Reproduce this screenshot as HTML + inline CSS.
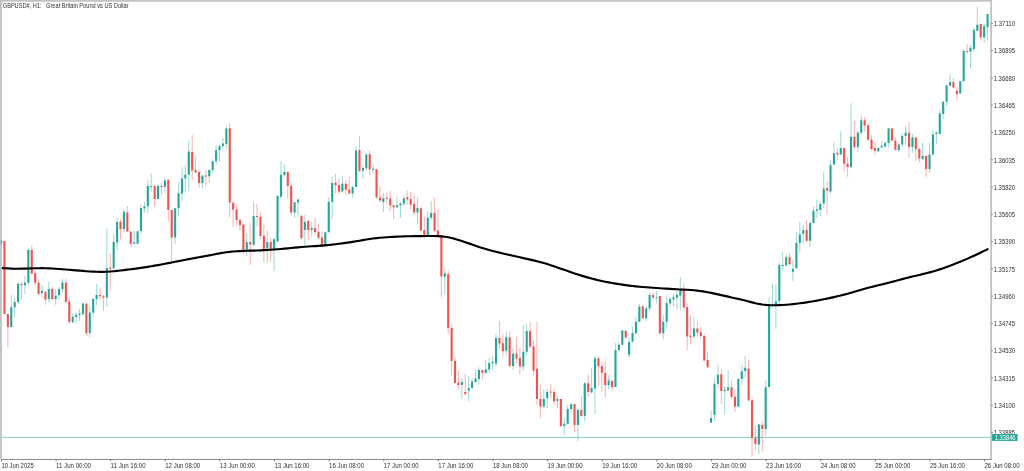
<!DOCTYPE html>
<html><head><meta charset="utf-8"><title>GBPUSD#, H1</title>
<style>
html,body{margin:0;padding:0;background:#fff;}
body{width:1024px;height:471px;overflow:hidden;position:relative;font-family:"Liberation Sans",sans-serif;}
svg{position:absolute;left:0;top:0;display:block;}
text{font-family:"Liberation Sans",sans-serif;font-size:6.3px;fill:#303030;}
.t{filter:blur(0.3px);}
</style></head>
<body>
<svg width="1024" height="471" viewBox="0 0 1024 471">
<rect x="0" y="0" width="1024" height="471" fill="#ffffff"/>
<!-- price line -->
<path d="M1.9 437.35H991" stroke="#26a69a" stroke-width="0.6" stroke-opacity="0.95" fill="none"/>
<!-- wicks -->
<path d="M11.27 295V326.9M14.68 297.8V317M18.1 282.4V304.4M24.93 275.8V294.2M28.34 248V285.6M41.99 285.3V297.4M48.82 281.2V302.5M55.65 289.5V304.8M59.06 287.1V299.7M62.47 279V291.9M72.72 313.1V323.6M76.13 312.6V323M79.54 308.8V320.9M82.96 302.5V315.8M89.78 305.8V337.3M93.2 298.1V317M96.61 284V305.2M106.85 228.3V306.8M113.68 234.6V269.2M117.09 218V250M123.92 209.7V232.2M134.16 230.6V243.8M137.57 231V243.8M140.99 204.5V234M144.4 202V213M147.81 179.7V213M151.23 173.4V192M158.06 183.7V199.1M164.88 177.8V192.6M175.12 208.3V243.8M178.54 182V216.4M181.95 167.2V201.5M185.36 165.9V191M188.78 140.4V190.8M202.43 175V187.9M209.26 169V182.9M212.67 159.3V173.4M216.09 145.1V164.3M219.5 144.8V161.7M222.91 138.1V149.5M226.33 126.3V149.1M246.81 233V256.4M253.64 202.6V246M267.29 230.6V262.6M274.12 237.5V271.1M277.53 195.2V242.5M280.95 160.9V198.8M284.36 164.1V177.4M294.6 202.1V217.8M298.01 199.4V217M304.84 214.6V245.3M311.67 221.7V236.7M325.32 231.1V245.6M328.74 197.2V232.2M332.15 176.7V218.6M342.39 176.2V192.8M352.63 185.3V197.9M356.04 146.3V186.9M362.87 165.6V178.7M366.29 153.5V170.8M373.11 164.5V173.2M383.35 193.2V212.3M397.01 196.3V208.4M400.42 201.7V217.8M403.83 194.7V206M417.49 197.8V223.6M427.73 211.5V235.5M431.14 201V220.1M444.8 267.7V294.4M461.87 378.3V399M468.69 376.2V401.4M472.11 378.6V389M475.52 369.9V383M478.93 367.3V384.5M485.76 359.7V373.9M489.17 358.1V373.1M492.59 355.7V369.9M496 333.4V366.7M506.24 331.8V355.4M513.07 347.9V369.9M523.31 325.1V370.4M526.72 324.3V355.7M543.79 389.3V408.4M547.21 388.8V408.4M557.45 396.2V408.4M564.27 418V434.8M567.69 405.5V424.9M571.1 403.5V412.6M577.93 407.9V441.1M584.76 382.1V421.4M591.58 367.6V393M595 356.3V413.6M608.65 375.1V389.2M615.48 343.2V386.9M618.89 342.1V351.9M622.31 329.9V345.6M629.13 337.4V357.8M632.55 326.4V342.4M635.96 317V334.3M639.37 304.1V321.8M646.2 305.3V321M649.61 292.3V310.7M656.44 290.7V303.2M663.27 315.2V339.3M666.68 295.1V328.6M670.1 297V307.6M673.51 293.8V307M676.92 290.7V309.5M680.34 277.3V310.4M693.99 317V338.5M711.06 410.1V422.7M714.47 378.3V419.6M717.89 364.6V388M724.71 386.3V414.5M728.13 370.1V390.5M738.37 378V406.7M741.78 365.4V385M745.19 355.9V377.2M758.85 423.5V453.8M765.68 380.3V435M769.09 297.7V386.9M772.5 283.9V307.7M775.92 283.9V329M779.33 262.7V304M782.74 252V270.6M786.16 254.5V266.5M792.99 259.3V281.3M796.4 232.5V268.2M799.81 221.8V252.5M803.23 224.5V243.7M810.05 221.4V247.2M813.47 206.4V223.5M816.88 199.4V217.8M820.29 201.7V216.2M823.71 171.7V208M830.53 159.9V193.5M833.95 142.3V165M840.78 131.3V155M851.02 103.2V168.5M857.84 130.8V152.3M861.26 115.1V134.7M878.33 146.5V152.3M881.74 141.3V148.1M885.15 141V147.3M888.57 127.6V147.3M898.81 143.8V152M902.22 133.5V147.3M905.63 126.5V144.9M912.46 133.9V152.8M922.7 142.6V160.2M929.53 142.9V172.8M932.94 130V155.2M936.36 130.8V143.8M939.77 110.2V133.9M943.18 100.7V118.8M946.6 85V105.8M950.01 74.2V85.8M960.25 81V93.6M963.67 49.1V81.3M970.49 45V68.2M973.91 27.5V52.3M977.32 6.8V31.6M984.15 23.4V42.8M987.56 14V40.8" stroke="#26a69a" stroke-width="1.0" stroke-opacity="0.45" fill="none"/>
<path d="M4.44 241V314M7.86 314V347M21.51 281.6V299.7M31.75 245.6V273.8M35.17 271.1V285.6M38.58 279.3V295M45.41 291V304.8M52.23 287.1V299.7M65.89 278.5V302.5M69.3 297.8V323.6M86.37 302.5V335.3M100.02 287.9V299.7M103.44 295V311M110.27 253.3V290M120.51 219.2V239.3M127.33 206V232.2M130.75 231.6V246.5M154.64 185V207M161.47 182.9V194.4M168.3 179.7V221.1M171.71 210.1V262M192.19 134.9V180M195.61 155.4V173.4M199.02 170.3V187.6M205.85 170.3V185.7M229.74 123.1V217.2M233.15 200.7V227.1M236.57 203.9V225.9M239.98 218V230.6M243.4 224V254M250.22 222.7V264.8M257.05 203.9V226.7M260.46 211.7V239.3M263.88 224.3V262.6M270.7 237.9V261.3M287.77 171.9V198.7M291.19 182.2V216.2M301.43 215.7V239.8M308.25 220V240.6M315.08 217.8V235.1M318.49 224.1V239M321.91 231.5V247.7M335.56 174V193.2M338.98 178.2V193.9M345.8 179.8V195.5M349.22 176.7V194.7M359.46 136.3V172.4M369.7 150.7V175.1M376.53 169.3V198.5M379.94 186.1V202.4M386.77 192.8V204.6M390.18 190.8V210.7M393.59 205.3V218.9M407.25 190.8V204.3M410.66 191.6V209.5M414.08 193.9V215.1M420.9 206.8V231M424.32 217V238.2M434.56 197.8V231.9M437.97 209.1V235.9M441.38 235.3V296.8M448.21 270.1V334M451.63 323.5V375.4M455.04 357.3V383M458.45 370.7V389.3M465.28 373.9V395.9M482.35 369.5V380.1M499.42 321.1V349.4M502.83 334V356.5M509.66 331.4V367.7M516.48 337.2V363.2M519.9 347.9V373.9M530.14 321.9V347.9M533.55 340V375.4M536.97 321.9V405.3M540.38 384.9V417.9M550.62 384.1V397.8M554.03 388.8V404.5M560.86 399V427M574.51 404V431.7M581.34 396V417M588.17 374.4V396.6M598.41 356.9V385.3M601.82 361.3V391.6M605.24 360.5V397.1M612.06 380V390.8M625.72 329.9V338.5M642.79 305V318.9M653.03 291.9V299.8M659.85 296.1V334.9M683.75 283.5V310.5M687.16 303.2V350.3M690.58 315.7V344.8M697.4 321.2V336.9M700.82 326.4V338.5M704.23 333.8V361M707.65 351.8V367.9M721.3 369.3V403.9M731.54 380.3V399M734.95 390.3V411.7M748.61 359.5V400.5M752.02 396.8V456.5M755.44 426.2V449.8M762.26 421.1V451.8M789.57 253V265M806.64 219.8V242.5M827.12 181V214.6M837.36 148.1V159.6M844.19 147.3V171.7M847.6 157V176.8M854.43 121V149.2M864.67 117.1V131.9M868.08 123.4V140.7M871.5 134.7V150.1M874.91 141.8V154.8M891.98 128.4V140.7M895.39 137.5V150.4M909.05 122.5V157.5M915.87 137V161.4M919.29 147.3V162.7M926.12 155.2V176.8M953.42 78V88.2M956.84 87V100M967.08 44V54.7M980.73 24.1V40.6" stroke="#ef5350" stroke-width="1.0" stroke-opacity="0.45" fill="none"/>
<!-- bodies -->
<path d="M11.27 307.3V326.9M14.68 302V307.3M18.1 283.7V302M24.93 282.4V285.3M28.34 250V282.7M41.99 291V293M48.82 289V298.9M55.65 295.8V298.9M59.06 289V295.3M62.47 282.4V289M72.72 316.7V322M76.13 314.7V317M79.54 313.6V315.1M82.96 303.6V313.9M89.78 312.5V332.9M93.2 298.9V312.6M96.61 295V298.9M106.85 268V297.5M113.68 242.1V268.5M117.09 222V242.4M123.92 211.8V229M134.16 242.3V243.8M137.57 231.2V243.8M140.99 208.1V231M144.4 206.2V208.6M147.81 186V206.2M151.23 186V187M158.06 186V199.1M164.88 180.5V186.8M175.12 208.3V237.6M178.54 193.3V208.3M181.95 178.5V193.5M185.36 174.7V178.5M188.78 151.4V174.7M202.43 175.8V182.9M209.26 170V176.3M212.67 161.2V170M216.09 150.2V161.2M219.5 145.9V150.2M222.91 143.6V145.9M226.33 128.6V143.9M246.81 242.3V249.4M253.64 216.1V244.7M267.29 241.9V248.6M274.12 239.3V249.2M277.53 196V241.3M280.95 174.7V196.8M284.36 171.9V175.1M294.6 202.2V212.6M298.01 199.5V202.3M304.84 222V229.9M311.67 228V229.9M325.32 232.2V245.6M328.74 201.7V232.2M332.15 182.9V201.7M342.39 183.7V191.6M352.63 186.9V193.5M356.04 150.4V186.9M362.87 168V170.8M366.29 154.6V168.3M373.11 168.8V169.9M383.35 198.2V202M397.01 205.3V207.3M400.42 203.5V205.5M403.83 198.2V203.7M417.49 208V212.6M427.73 217.8V235.1M431.14 213.1V217.8M444.8 273.2V276.8M461.87 382V384.9M468.69 388V390.4M472.11 381.4V388M475.52 378.6V382M478.93 369.9V378.9M485.76 369.3V372.8M489.17 362.9V369.6M492.59 361.8V363.2M496 338.1V363.6M506.24 337.2V350.7M513.07 353.8V365.9M523.31 351.8V366.6M526.72 330.9V351.8M543.79 399V406.6M547.21 391.9V398.2M557.45 399V400.9M564.27 423.8V426.1M567.69 408.9V423.8M571.1 404.3V408.9M577.93 410V424.9M584.76 383.2V416M591.58 388.1V392.4M595 358.2V388.4M608.65 380.6V385.3M615.48 350V386.9M618.89 344.8V350M622.31 330.6V344.8M629.13 342.1V354.7M632.55 333V341.7M635.96 321.8V333.3M639.37 306.6V321.8M646.2 308.4V318.5M649.61 295.1V308.6M656.44 296.9V297.8M663.27 321.8V333.3M666.68 303.2V321.7M670.1 299.1V303.2M673.51 297.3V299.4M676.92 294.8V297.8M680.34 289.8V295.7M693.99 328.6V336.5M711.06 418V422.7M714.47 384V415M717.89 374.7V383.8M724.71 389.8V391M728.13 387.2V390.5M738.37 379V406.7M741.78 371.2V379M745.19 367.7V370.9M758.85 424.6V444.4M765.68 387.2V429M769.09 305.2V386.9M772.5 304.6V305.4M775.92 301.4V304.8M779.33 265.1V300.8M782.74 265.1V265.9M786.16 257.2V265.6M792.99 269V271.7M796.4 243V268.2M799.81 234.4V243M803.23 230.2V233.8M810.05 222.9V240.7M813.47 210.8V222.9M816.88 209.3V210.8M820.29 204.1V209.9M823.71 188.4V203.6M830.53 164.9V191.5M833.95 153.3V164.6M840.78 148.1V154.4M851.02 137.1V166.9M857.84 132.4V147M861.26 120.2V132.8M878.33 148.1V151.2M881.74 145.7V147.3M885.15 142.9V146.5M888.57 128.4V142.9M898.81 144.5V150.1M902.22 136V144.5M905.63 132.8V136M912.46 137.5V147M922.7 155.9V159.1M929.53 154.4V169M932.94 134.4V154.4M936.36 132.8V134.1M939.77 113.3V133.9M943.18 101.8V114M946.6 85.3V101.8M950.01 82V85.8M960.25 81.3V93.6M963.67 51V81.3M970.49 47.8V51.7M973.91 30V49.1M977.32 24.7V30.7M984.15 26.3V37.6M987.56 14V26.9" stroke="#26a69a" stroke-width="2.1" fill="none"/>
<path d="M4.44 241V314M7.86 314V326.9M21.51 284V285.3M31.75 250V273.8M35.17 273.3V282.7M38.58 282.7V293.9M45.41 291.9V299.4M52.23 289V298.9M65.89 282.4V302.1M69.3 301.6V322M86.37 303.7V332.9M100.02 295V296.3M103.44 296.3V297.5M110.27 267.8V269M120.51 222V229M127.33 212.6V231.6M130.75 231.6V243.8M154.64 186V199.1M161.47 186V187.1M168.3 179.7V210.1M171.71 210.1V237.6M192.19 151.9V170.6M195.61 170V172.2M199.02 171.9V182.9M205.85 175.5V176.6M229.74 128.2V202.6M233.15 203.1V209.8M236.57 209.4V219.9M239.98 219.9V225.1M243.4 224.6V249.4M250.22 242V244.6M257.05 216.1V217.1M260.46 216.9V236M263.88 235.8V249.1M270.7 241.9V249.2M287.77 171.9V186.1M291.19 186.1V212.6M301.43 215.7V238.2M308.25 220.9V229.9M315.08 228V231.9M318.49 231.9V237.8M321.91 237.4V245.6M335.56 182.6V185M338.98 185V191.6M345.8 183.7V189.7M349.22 189.5V193.5M359.46 149.9V170.8M369.7 154.2V169.6M376.53 169.3V197.6M379.94 197.5V200.6M386.77 197.9V199.1M390.18 198.6V205.3M393.59 205.3V207.3M407.25 197.2V199.6M410.66 199V204.8M414.08 204.1V212.6M420.9 208.2V230.4M424.32 229.9V235.1M434.56 213.1V230.8M437.97 230.4V235.1M441.38 235.3V276.4M448.21 274V327.9M451.63 327.9V360.9M455.04 360.9V383M458.45 382.5V384.9M465.28 391.9V394M482.35 370.2V373.1M499.42 338.1V343.6M502.83 343.2V351.3M509.66 337.2V365.8M516.48 353.4V358.5M519.9 358.1V366.6M530.14 330.9V346.6M533.55 346.3V370.7M536.97 368.7V399M540.38 399V406.6M550.62 391.5V392.4M554.03 391.9V401.4M560.86 399V426.1M574.51 404V424.9M581.34 410V416M588.17 383.2V391.9M598.41 358.2V366M601.82 366V372.7M605.24 373V385M612.06 381V386.9M625.72 331V337.4M642.79 306.6V318.2M653.03 295.1V297.6M659.85 296.1V333.3M683.75 289.8V307.4M687.16 307V336.5M690.58 335.8V336.9M697.4 328.6V332.5M700.82 332.2V336M704.23 336V360.5M707.65 360.1V367.3M721.3 374.3V391M731.54 387.2V396.8M734.95 396.8V406.7M748.61 368.5V400.5M752.02 400.3V437.7M755.44 438.1V443.9M762.26 425.1V429M789.57 257.2V264.3M806.64 230V240.7M827.12 187.9V190.7M837.36 152.8V154.4M844.19 148.1V163.8M847.6 163.8V166.9M854.43 137.1V147M864.67 120.2V125.6M868.08 125.3V139.7M871.5 139.4V149.2M874.91 148.1V150.8M891.98 128.4V140.7M895.39 140.7V149.7M909.05 132.8V147M915.87 137.5V149.2M919.29 148.9V158.6M926.12 155.9V169M953.42 82V87.6M956.84 90.8V93.9M967.08 51.3V51.9M980.73 24.1V37.3" stroke="#ef5350" stroke-width="2.1" fill="none"/>
<!-- moving average -->
<path d="M1.03 268 L4.44 268.22 L7.86 268.42 L11.27 268.59 L14.68 268.7 L18.1 268.72 L21.51 268.67 L24.93 268.57 L28.34 268.46 L31.75 268.35 L35.17 268.27 L38.58 268.21 L41.99 268.18 L45.41 268.21 L48.82 268.31 L52.23 268.48 L55.65 268.71 L59.06 268.97 L62.47 269.24 L65.89 269.51 L69.3 269.79 L72.72 270.08 L76.13 270.36 L79.54 270.65 L82.96 270.93 L86.37 271.21 L89.78 271.45 L93.2 271.65 L96.61 271.79 L100.02 271.86 L103.44 271.83 L106.85 271.71 L110.27 271.49 L113.68 271.2 L117.09 270.84 L120.51 270.47 L123.92 270.07 L127.33 269.67 L130.75 269.25 L134.16 268.81 L137.57 268.36 L140.99 267.88 L144.4 267.36 L147.81 266.82 L151.23 266.26 L154.64 265.67 L158.06 265.07 L161.47 264.45 L164.88 263.8 L168.3 263.14 L171.71 262.46 L175.12 261.79 L178.54 261.11 L181.95 260.44 L185.36 259.78 L188.78 259.13 L192.19 258.49 L195.61 257.86 L199.02 257.25 L202.43 256.64 L205.85 256.02 L209.26 255.38 L212.67 254.72 L216.09 254.05 L219.5 253.39 L222.91 252.77 L226.33 252.25 L229.74 251.84 L233.15 251.52 L236.57 251.27 L239.98 251.07 L243.4 250.92 L246.81 250.78 L250.22 250.67 L253.64 250.57 L257.05 250.45 L260.46 250.32 L263.88 250.16 L267.29 249.98 L270.7 249.76 L274.12 249.52 L277.53 249.24 L280.95 248.95 L284.36 248.63 L287.77 248.31 L291.19 247.97 L294.6 247.63 L298.01 247.31 L301.43 247 L304.84 246.72 L308.25 246.48 L311.67 246.28 L315.08 246.09 L318.49 245.9 L321.91 245.67 L325.32 245.39 L328.74 245.05 L332.15 244.66 L335.56 244.24 L338.98 243.79 L342.39 243.34 L345.8 242.87 L349.22 242.38 L352.63 241.86 L356.04 241.3 L359.46 240.71 L362.87 240.12 L366.29 239.53 L369.7 238.98 L373.11 238.48 L376.53 238.07 L379.94 237.74 L383.35 237.47 L386.77 237.24 L390.18 237.04 L393.59 236.86 L397.01 236.69 L400.42 236.54 L403.83 236.41 L407.25 236.3 L410.66 236.22 L414.08 236.16 L417.49 236.12 L420.9 236.08 L424.32 236.05 L427.73 236.03 L431.14 236.01 L434.56 236.04 L437.97 236.14 L441.38 236.36 L444.8 236.74 L448.21 237.29 L451.63 238.02 L455.04 238.91 L458.45 239.91 L461.87 241.01 L465.28 242.18 L468.69 243.38 L472.11 244.59 L475.52 245.77 L478.93 246.9 L482.35 247.99 L485.76 249.02 L489.17 250.01 L492.59 250.95 L496 251.83 L499.42 252.66 L502.83 253.46 L506.24 254.25 L509.66 255.02 L513.07 255.79 L516.48 256.56 L519.9 257.32 L523.31 258.08 L526.72 258.84 L530.14 259.61 L533.55 260.4 L536.97 261.23 L540.38 262.12 L543.79 263.07 L547.21 264.09 L550.62 265.16 L554.03 266.28 L557.45 267.44 L560.86 268.64 L564.27 269.85 L567.69 271.07 L571.1 272.27 L574.51 273.43 L577.93 274.55 L581.34 275.62 L584.76 276.64 L588.17 277.6 L591.58 278.51 L595 279.37 L598.41 280.19 L601.82 280.96 L605.24 281.69 L608.65 282.38 L612.06 283.02 L615.48 283.61 L618.89 284.16 L622.31 284.68 L625.72 285.17 L629.13 285.63 L632.55 286.04 L635.96 286.4 L639.37 286.71 L642.79 286.97 L646.2 287.23 L649.61 287.47 L653.03 287.73 L656.44 287.98 L659.85 288.23 L663.27 288.46 L666.68 288.69 L670.1 288.9 L673.51 289.1 L676.92 289.28 L680.34 289.45 L683.75 289.61 L687.16 289.79 L690.58 289.99 L693.99 290.26 L697.4 290.61 L700.82 291.06 L704.23 291.6 L707.65 292.22 L711.06 292.89 L714.47 293.6 L717.89 294.35 L721.3 295.11 L724.71 295.88 L728.13 296.66 L731.54 297.43 L734.95 298.18 L738.37 298.92 L741.78 299.7 L745.19 300.54 L748.61 301.44 L752.02 302.34 L755.44 303.19 L758.85 303.93 L762.26 304.52 L765.68 304.94 L769.09 305.19 L772.5 305.3 L775.92 305.28 L779.33 305.16 L782.74 304.98 L786.16 304.75 L789.57 304.46 L792.99 304.12 L796.4 303.72 L799.81 303.29 L803.23 302.82 L806.64 302.32 L810.05 301.78 L813.47 301.2 L816.88 300.59 L820.29 299.96 L823.71 299.3 L827.12 298.6 L830.53 297.87 L833.95 297.11 L837.36 296.32 L840.78 295.49 L844.19 294.62 L847.6 293.7 L851.02 292.72 L854.43 291.71 L857.84 290.67 L861.26 289.66 L864.67 288.69 L868.08 287.78 L871.5 286.92 L874.91 286.1 L878.33 285.29 L881.74 284.47 L885.15 283.62 L888.57 282.74 L891.98 281.85 L895.39 280.93 L898.81 280.01 L902.22 279.09 L905.63 278.21 L909.05 277.36 L912.46 276.54 L915.87 275.74 L919.29 274.93 L922.7 274.11 L926.12 273.26 L929.53 272.37 L932.94 271.44 L936.36 270.45 L939.77 269.39 L943.18 268.24 L946.6 267.02 L950.01 265.75 L953.42 264.45 L956.84 263.12 L960.25 261.75 L963.67 260.34 L967.08 258.87 L970.49 257.35 L973.91 255.78 L977.32 254.18 L980.73 252.54 L984.15 250.88 L987.56 249.22" stroke="#000" stroke-width="2.15" fill="none" stroke-linejoin="round" stroke-linecap="round"/>
<!-- frame -->
<rect x="0" y="0" width="992" height="1.75" fill="#c3c3c3"/>
<rect x="0" y="0" width="1.9" height="458.8" fill="#c3c3c3"/>
<rect x="990.2" y="0" width="1.85" height="459.8" fill="#c3c3c3"/>
<path d="M1.5 243.7V240.6" stroke="#26a69a" stroke-width="1.2" fill="none"/>
<path d="M1.2 459.45H991.6" stroke="#6a6a6a" stroke-width="0.8" fill="none"/>
<path d="M1.48 459.4v1.9M56.1 459.4v1.9M110.72 459.4v1.9M165.33 459.4v1.9M219.95 459.4v1.9M274.57 459.4v1.9M329.19 459.4v1.9M383.8 459.4v1.9M438.42 459.4v1.9M493.04 459.4v1.9M547.66 459.4v1.9M602.27 459.4v1.9M656.89 459.4v1.9M711.51 459.4v1.9M766.13 459.4v1.9M820.74 459.4v1.9M875.36 459.4v1.9M929.98 459.4v1.9M984.6 459.4v1.9" stroke="#5a5a5a" stroke-width="0.8" fill="none"/>
<path d="M991.3 23.35h1.6M991.3 50.62h1.6M991.3 77.9h1.6M991.3 105.17h1.6M991.3 132.44h1.6M991.3 159.72h1.6M991.3 186.99h1.6M991.3 214.26h1.6M991.3 241.53h1.6M991.3 268.81h1.6M991.3 296.08h1.6M991.3 323.35h1.6M991.3 350.63h1.6M991.3 377.9h1.6M991.3 405.17h1.6M991.3 432.44h1.6" stroke="#3a3a3a" stroke-width="0.6" fill="none"/>
<!-- labels -->
<g class="t">
<text x="2.8" y="7.9" textLength="38.6" lengthAdjust="spacingAndGlyphs">GBPUSD#, H1:</text>
<text x="46.1" y="7.9" textLength="82.5" lengthAdjust="spacingAndGlyphs">Great Britain Pound vs US Dollar</text>
<text x="993.7" y="26.2" textLength="21.3" lengthAdjust="spacingAndGlyphs">1.37110</text><text x="993.7" y="53.47" textLength="21.3" lengthAdjust="spacingAndGlyphs">1.36895</text><text x="993.7" y="80.75" textLength="21.3" lengthAdjust="spacingAndGlyphs">1.36680</text><text x="993.7" y="108.02" textLength="21.3" lengthAdjust="spacingAndGlyphs">1.36465</text><text x="993.7" y="135.29" textLength="21.3" lengthAdjust="spacingAndGlyphs">1.36250</text><text x="993.7" y="162.57" textLength="21.3" lengthAdjust="spacingAndGlyphs">1.36035</text><text x="993.7" y="189.84" textLength="21.3" lengthAdjust="spacingAndGlyphs">1.35820</text><text x="993.7" y="217.11" textLength="21.3" lengthAdjust="spacingAndGlyphs">1.35605</text><text x="993.7" y="244.38" textLength="21.3" lengthAdjust="spacingAndGlyphs">1.35390</text><text x="993.7" y="271.66" textLength="21.3" lengthAdjust="spacingAndGlyphs">1.35175</text><text x="993.7" y="298.93" textLength="21.3" lengthAdjust="spacingAndGlyphs">1.34960</text><text x="993.7" y="326.2" textLength="21.3" lengthAdjust="spacingAndGlyphs">1.34745</text><text x="993.7" y="353.48" textLength="21.3" lengthAdjust="spacingAndGlyphs">1.34530</text><text x="993.7" y="380.75" textLength="21.3" lengthAdjust="spacingAndGlyphs">1.34315</text><text x="993.7" y="408.02" textLength="21.3" lengthAdjust="spacingAndGlyphs">1.34100</text><text x="993.7" y="435.29" textLength="21.3" lengthAdjust="spacingAndGlyphs">1.33885</text>
<text x="1.38" y="467.75" textLength="32.3" lengthAdjust="spacingAndGlyphs">10 Jun 2025</text><text x="56" y="467.75" textLength="35.0" lengthAdjust="spacingAndGlyphs">11 Jun 00:00</text><text x="110.62" y="467.75" textLength="35.0" lengthAdjust="spacingAndGlyphs">11 Jun 16:00</text><text x="165.23" y="467.75" textLength="35.0" lengthAdjust="spacingAndGlyphs">12 Jun 08:00</text><text x="219.85" y="467.75" textLength="35.0" lengthAdjust="spacingAndGlyphs">13 Jun 00:00</text><text x="274.47" y="467.75" textLength="35.0" lengthAdjust="spacingAndGlyphs">13 Jun 16:00</text><text x="329.09" y="467.75" textLength="35.0" lengthAdjust="spacingAndGlyphs">16 Jun 08:00</text><text x="383.7" y="467.75" textLength="35.0" lengthAdjust="spacingAndGlyphs">17 Jun 00:00</text><text x="438.32" y="467.75" textLength="35.0" lengthAdjust="spacingAndGlyphs">17 Jun 16:00</text><text x="492.94" y="467.75" textLength="35.0" lengthAdjust="spacingAndGlyphs">18 Jun 08:00</text><text x="547.56" y="467.75" textLength="35.0" lengthAdjust="spacingAndGlyphs">19 Jun 00:00</text><text x="602.17" y="467.75" textLength="35.0" lengthAdjust="spacingAndGlyphs">19 Jun 16:00</text><text x="656.79" y="467.75" textLength="35.0" lengthAdjust="spacingAndGlyphs">20 Jun 08:00</text><text x="711.41" y="467.75" textLength="35.0" lengthAdjust="spacingAndGlyphs">23 Jun 00:00</text><text x="766.03" y="467.75" textLength="35.0" lengthAdjust="spacingAndGlyphs">23 Jun 16:00</text><text x="820.64" y="467.75" textLength="35.0" lengthAdjust="spacingAndGlyphs">24 Jun 08:00</text><text x="875.26" y="467.75" textLength="35.0" lengthAdjust="spacingAndGlyphs">25 Jun 00:00</text><text x="929.88" y="467.75" textLength="35.0" lengthAdjust="spacingAndGlyphs">25 Jun 16:00</text><text x="984.5" y="467.75" textLength="35.0" lengthAdjust="spacingAndGlyphs">26 Jun 08:00</text>
</g>
<!-- price tag -->
<rect x="992.05" y="434.05" width="25.55" height="6.85" fill="#26a69a"/>
<text x="994.7" y="440.0" textLength="20.9" lengthAdjust="spacingAndGlyphs" style="fill:#fff" class="t">1.33846</text>
</svg>
</body></html>
